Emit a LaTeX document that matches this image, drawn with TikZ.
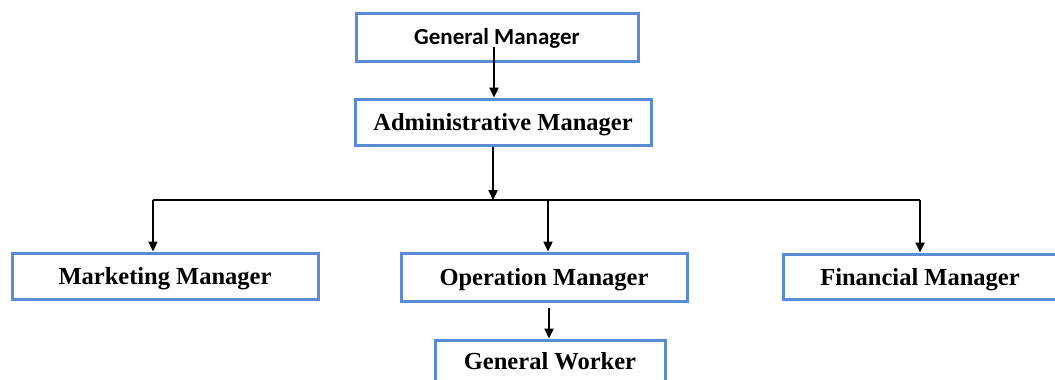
\documentclass[tikz,border=0pt]{standalone}
\usepackage{fontspec}
\setmainfont{Liberation Serif}
\newfontfamily\calfont{Carlito}
\usetikzlibrary{arrows.meta,calc}
\definecolor{boxblue}{RGB}{90,140,214}
\tikzset{
  orgbox/.style={draw=boxblue, line width=3pt, fill=white, inner sep=0pt, anchor=center,
     text height=20pt, text depth=3pt,
     font=\fontsize{24.5}{28}\selectfont\bfseries},
  conn/.style={line width=2.3pt, draw=black},
  arr/.style={conn, -{Triangle[length=10pt,width=9pt]}},
}
\begin{document}
\begin{tikzpicture}[x=1pt,y=-1pt]
\useasboundingbox (0,0) rectangle (1055,380);
\node[orgbox, minimum width=282pt, minimum height=48pt, text height=18pt, text depth=4pt, font=\calfont\fontsize{23}{27}\selectfont\bfseries] (gm) at (497,37) {General Manager};
\node[orgbox, minimum width=296pt, minimum height=46pt] (adm) at (503,122) {Administrative Manager};
\node[orgbox, minimum width=306pt, minimum height=46pt] (mkt) at (165,276) {Marketing Manager};
\node[orgbox, minimum width=286pt, minimum height=48pt] (ops) at (544,277) {Operation Manager};
\node[orgbox, minimum width=274pt, minimum height=45pt] (fin) at (920,276.5) {Financial Manager};
\node[orgbox, minimum width=230pt, minimum height=56pt, text height=17pt, text depth=15pt] (gw) at (550,368) {General Worker};
% connectors
\coordinate (gmstart) at (494,47);
\coordinate (junc) at (493,200);
\coordinate (hl) at (153,200);
\coordinate (hr) at (920,200);
\coordinate (hm) at (548,200);
\coordinate (opsgap) at (549,308);
\draw[arr] (gmstart) -- (gmstart |- adm.north);
\draw[arr] (adm.south -| junc) -- (junc);
\draw[conn] (hl) -- (hr);
\draw[arr] (hl) -- (hl |- mkt.north);
\draw[arr] (hm) -- (hm |- ops.north);
\draw[arr] (hr) -- (hr |- fin.north);
\draw[arr] (opsgap) -- (opsgap |- gw.north);
\end{tikzpicture}
\end{document}
